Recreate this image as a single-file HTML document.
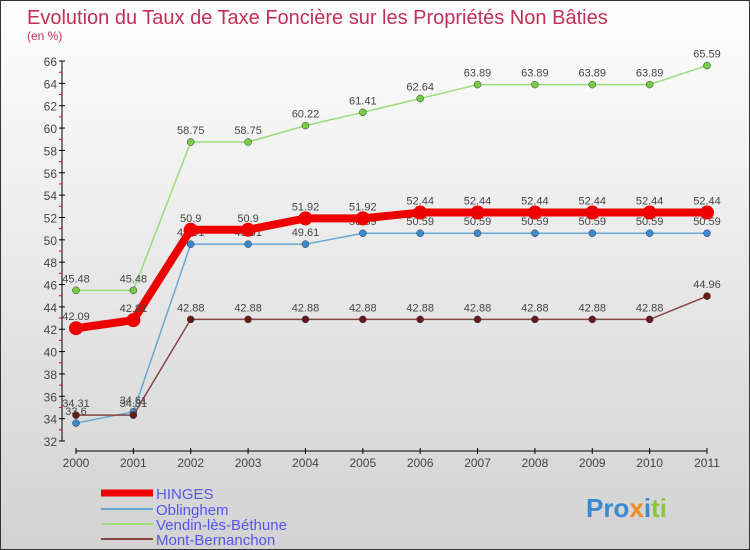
<!DOCTYPE html>
<html><head><meta charset="utf-8"><style>
body{margin:0}
#c{width:750px;height:550px;position:relative;overflow:hidden;font-family:"Liberation Sans",sans-serif;background:linear-gradient(#fefefe,#d2d2d2);box-sizing:border-box;border:1px solid #333}
svg{position:absolute;left:0;top:0}
</style></head><body>
<div id="c">
<svg id="s" width="750" height="550">
<text x="26" y="23" font-size="20" fill="#c2305a">Evolution du Taux de Taxe Foncière sur les Propriétés Non Bâties</text>
<text x="26" y="39" font-size="12" fill="#c2305a">(en %)</text>
<text x="585" y="516" font-size="26" font-weight="bold" fill="#3a8ad0">Pro<tspan fill="#f08a20">x</tspan><tspan fill="#3a8ad0">i</tspan><tspan fill="#8cc63f">ti</tspan></text>
</svg>
</div>
<script>
const years=[2000,2001,2002,2003,2004,2005,2006,2007,2008,2009,2010,2011];
const hinges=[42.09,42.81,50.9,50.9,51.92,51.92,52.44,52.44,52.44,52.44,52.44,52.44];
const oblinghem=[33.6,34.61,49.61,49.61,49.61,50.59,50.59,50.59,50.59,50.59,50.59,50.59];
const vendin=[45.48,45.48,58.75,58.75,60.22,61.41,62.64,63.89,63.89,63.89,63.89,65.59];
const mont=[34.31,34.31,42.88,42.88,42.88,42.88,42.88,42.88,42.88,42.88,42.88,44.96];
const yTicks=[32,34,36,38,40,42,44,46,48,50,52,54,56,58,60,62,64,66];
const names=["HINGES","Oblinghem","Vendin-lès-Béthune","Mont-Bernanchon"];
const svg=document.getElementById('s');const NS='http://www.w3.org/2000/svg';
const X=i=>75+i*(706-75)/(years.length-1);
const Y=v=>440-(v-32)*(380/34);
function el(t,a,p){const e=document.createElementNS(NS,t);for(const k in a)e.setAttribute(k,a[k]);(p||svg).appendChild(e);return e;}
// axes
let a=el('line',{x1:61,y1:60,x2:61,y2:440,stroke:'#000'});

a=el('line',{x1:75,y1:450,x2:706,y2:450,stroke:'#000'});

yTicks.forEach(v=>{el('line',{x1:58,y1:Y(v),x2:64,y2:Y(v),stroke:'#000'});
 if(v<66)el('line',{x1:58,y1:Y(v+1),x2:61,y2:Y(v+1),stroke:'#e00'});
 const t=el('text',{x:56,y:Y(v)+5,'font-size':12,fill:'#444','text-anchor':'end'});t.textContent=v;
 });
years.forEach((y,i)=>{el('line',{x1:X(i),y1:447,x2:X(i),y2:453,stroke:'#000'});
 const t=el('text',{x:X(i),y:466,'font-size':12,fill:'#444','text-anchor':'middle'});t.textContent=y;
 });
const series=[[vendin,'#99dd77','#77cc44',1.5,3.5],[oblinghem,'#66a8d4','#3a8ad0',1.5,3.5],[mont,'#884444','#661a1a',1.5,3.5],[hinges,'#ee0000','#ee0000',8,7]];
series.forEach(([d,lc,pc,w,r],si)=>{
 const g=el('g',{});
 el('polyline',{points:d.map((v,i)=>X(i)+','+Y(v)).join(' '),fill:'none',stroke:lc,'stroke-width':w,'stroke-linejoin':'round'},g);
 d.forEach((v,i)=>{const p=el('circle',{cx:X(i),cy:Y(v),r:r,fill:pc,stroke:r>5?'none':'#333','stroke-width':0.5},g);
  
  const t=el('text',{x:X(i),y:Y(v)-8,'font-size':11,fill:'#444','text-anchor':'middle'},g);t.textContent=v;
  });
});
const lc=['#ee0000','#66a8d4','#99dd77','#884444'],lw=[7,2,2,2],ly=[492,508,523,538];
names.forEach((n,i)=>{const g=el('g',{});
 el('line',{x1:100,y1:ly[i],x2:152,y2:ly[i],stroke:lc[i],'stroke-width':lw[i]},g);
 const t=el('text',{x:155,y:ly[i]+6,'font-size':15,fill:'#5555ee'},g);t.textContent=n;});
</script>
</body></html>
